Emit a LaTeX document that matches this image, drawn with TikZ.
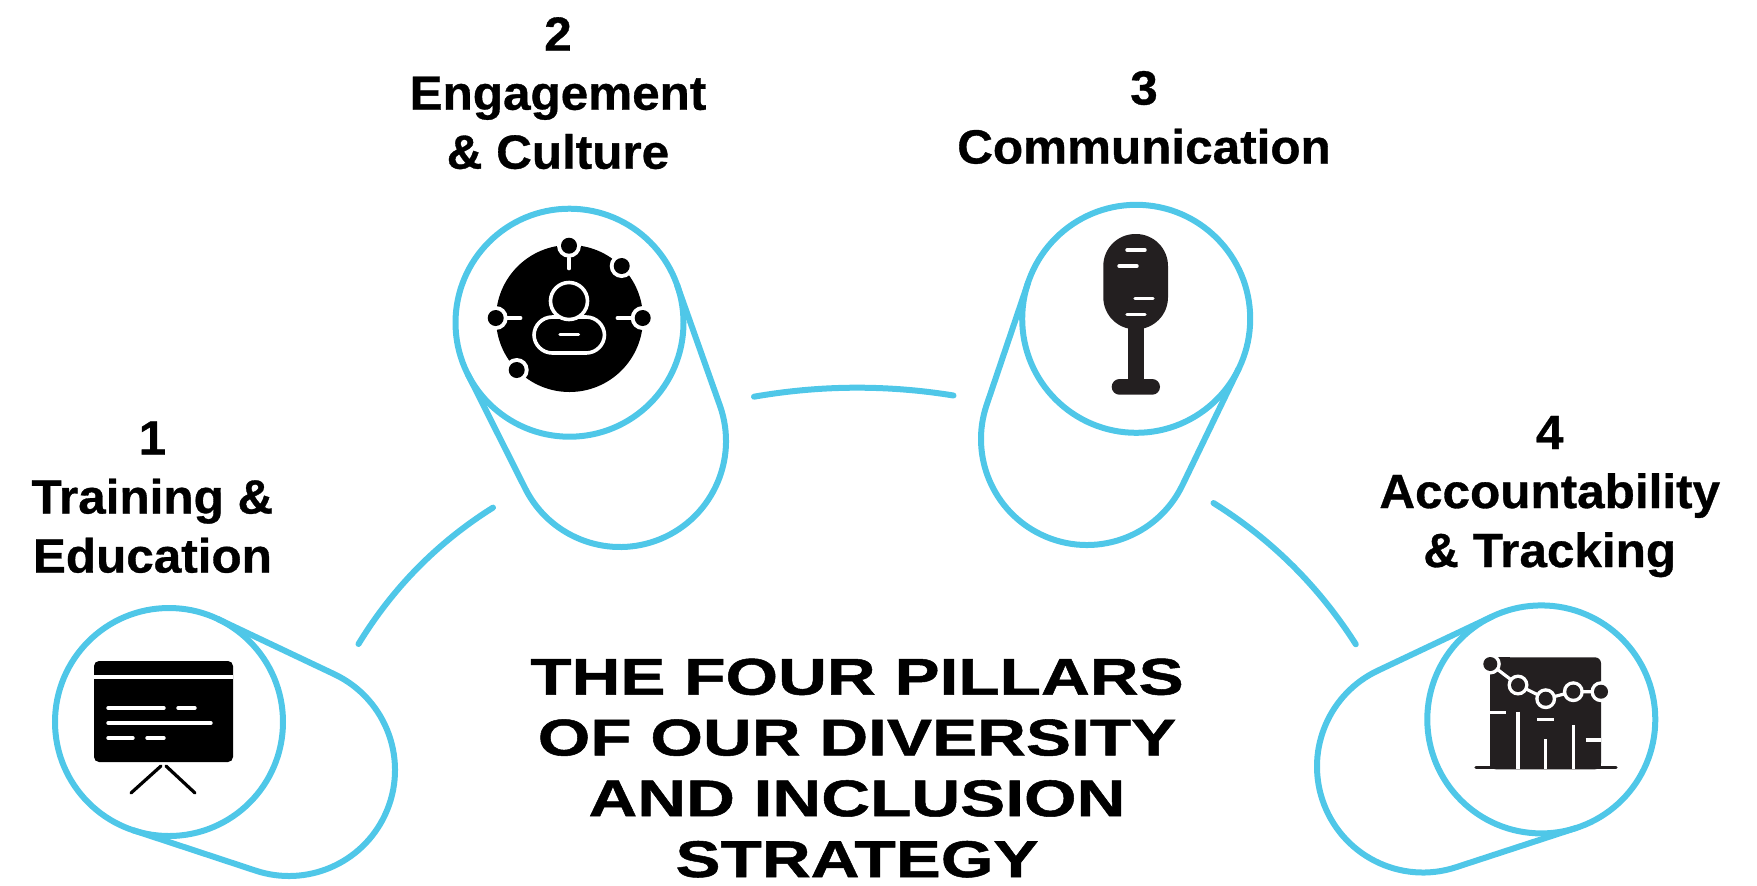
\documentclass[tikz,border=0pt]{standalone}
\usepackage{fontspec}
\setmainfont{Liberation Sans}
\newfontfamily\labelfont[BoldFeatures={FakeBold=0.7,FakeStretch=1.03}]{Liberation Sans}
\newfontfamily\titlefont[BoldFeatures={FakeBold=1.0,FakeStretch=1.31}]{Liberation Sans}
\usetikzlibrary{calc}
\definecolor{ringblue}{HTML}{4FC7E8}
\definecolor{inkdark}{HTML}{231F20}
\tikzset{
  ringnode/.style={circle,draw=ringblue,line width=3pt,minimum size=114pt,inner sep=0pt,outer sep=0pt},
  ringline/.style={draw=ringblue,line width=3pt,line join=round},
  connector/.style={draw=ringblue,line width=3pt,line cap=round},
  pillarlabel/.style={align=center,anchor=base,inner sep=0pt,outer sep=0pt,font=\labelfont\bfseries\fontsize{24}{29.5}\selectfont},
  titlelabel/.style={align=center,anchor=base,inner sep=0pt,outer sep=0pt,font=\titlefont\bfseries\fontsize{25.8}{30.4}\selectfont},
  whitedash/.style={draw=white,line width=1.7pt,line cap=round},
  whitehair/.style={draw=white,line width=1.6pt},
  blackline/.style={draw=black,line width=1.6pt,line cap=round},
}
\newcommand{\pillshape}[4]{%
  \path[ringline] ($(#1.center)+(#3:114)$) -- ($(#2)+(#3:106)$)
    arc[start angle=#3,end angle=#4,radius=106] -- ($(#1.center)+(#4:114)$);}
\newcommand{\ringdot}[3]{%
  \fill[white] (#1,#2) circle[radius=#3+4];
  \fill[black] (#1,#2) circle[radius=#3];}
\begin{document}
\begin{tikzpicture}[x=0.5pt,y=-0.5pt]
\useasboundingbox (0,0) rectangle (1757,885);
% rings
\node[ringnode] (r1) at (169,722) {};
\node[ringnode] (r2) at (569.5,322.7) {};
\node[ringnode] (r3) at (1136.2,318.8) {};
\node[ringnode] (r4) at (1541.3,719.4) {};
\coordinate (b1) at (289,770);
\coordinate (b2) at (620,441);
\coordinate (b3) at (1087,439);
\coordinate (b4) at (1423,766.5);
\pillshape{r1}{b1}{-64.7}{108.3}
\pillshape{r2}{b2}{-19.53}{153.33}
\pillshape{r3}{b3}{25.8}{198.8}
\pillshape{r4}{b4}{71.9}{244.7}
% connectors
\coordinate (k1) at (358.5,644); \coordinate (k2) at (493,507.6);
\coordinate (k3) at (754,396.7); \coordinate (k4) at (953.5,395.5);
\coordinate (k5) at (1213.5,503); \coordinate (k6) at (1355.8,644.3);
\path[connector] (k1) .. controls (392.7,587.9) and (437.5,542.4) .. (k2);
\path[connector] (k3) .. controls (820.5,385.1) and (887,384.7) .. (k4);
\path[connector] (k5) .. controls (1271.6,539.4) and (1319,586.5) .. (k6);
% icon 1: board
\fill[black,rounded corners=2.5pt] (94,661) rectangle (233,762);
\path[whitehair] (94,677) -- (233,677);
\path[whitedash] (108,708) -- (164,708);
\path[whitedash] (178,708) -- (195,708);
\path[whitedash] (108,723) -- (211,723);
\path[whitedash] (108,738) -- (133,738);
\path[whitedash] (147,738) -- (164,738);
\path[blackline] (161,766) -- (131,793);
\path[blackline] (166,766) -- (195,793);
% icon 2: person in a disc
\fill[black] (569.5,318.5) circle[radius=73.5];
\ringdot{569}{245.7}{8}
\ringdot{621.7}{266}{8}
\ringdot{495.7}{318}{8}
\ringdot{642.7}{318}{8}
\ringdot{516.7}{370}{8}
\path[whitedash] (569,258) -- (569,268.6);
\path[whitedash] (506,318) -- (520.7,318);
\path[whitedash] (617.3,318) -- (632,318);
\filldraw[draw=white,line width=1.8pt,fill=black,rounded corners=9.2pt] (534,317) rectangle (604.5,353);
\filldraw[draw=white,line width=1.8pt,fill=black] (569,301) circle[radius=18.5];
\path[whitedash] (560,334.6) -- (578.5,334.6);
% icon 3: microphone
\fill[inkdark,rounded corners=16pt] (1103.3,234) rectangle (1168,329.3);
\fill[inkdark] (1127.7,320) rectangle (1144,385);
\fill[inkdark,rounded corners=3.9pt] (1111.7,379) rectangle (1160,394.7);
\path[whitedash] (1127,250) -- (1145,250);
\path[whitedash] (1119,266) -- (1137,266);
\path[whitedash] (1135,298.3) -- (1153,298.3);
\path[whitedash] (1127,314.3) -- (1145,314.3);
% icon 4: chart
\fill[inkdark,rounded corners=3pt] (1490,769.3) -- (1490,657.3) -- (1601,657.3) -- (1601,769.3) -- cycle;
\fill[inkdark] (1490,760) rectangle (1601,769.3);
\fill[inkdark] (1490,657.3) rectangle (1510,670);
\path[draw=inkdark,line width=1.6pt,line cap=round] (1476,767.7) -- (1490,767.7);
\path[draw=inkdark,line width=1.6pt,line cap=round] (1601,767.7) -- (1616,767.7);
\path[whitehair] (1518,711.7) -- (1518,769.3);
\path[whitehair] (1545.7,739.3) -- (1545.7,769.3);
\path[whitehair] (1573.3,725) -- (1573.3,769.3);
\path[whitehair] (1490,712.3) -- (1505.7,712.3);
\path[whitehair] (1537.3,719.3) -- (1554,719.3);
\path[whitehair] (1585.7,740) -- (1601,740);
\path[whitehair] (1490.3,664) -- (1518,685) -- (1545.7,698.7) -- (1573.3,691.7) -- (1601,691.7);
\foreach \px/\py in {1490.3/664,1518/685,1545.7/698.7,1573.3/691.7,1601/691.7}{
  \fill[white] (\px,\py) circle[radius=10.5];
  \fill[inkdark] (\px,\py) circle[radius=7];}
% labels
\node[pillarlabel] (l1) at (152.4,572.5) {1\\Training \&\\Education};
\node[pillarlabel] (l2) at (558,168.7) {2\\Engagement\\\& Culture};
\node[pillarlabel] (l3) at (1144,163.5) {3\\Communication};
\node[pillarlabel] (l4) at (1549.7,567) {4\\Accountability\\\& Tracking};
\node[titlelabel] (t) at (857,877) {THE FOUR PILLARS\\OF OUR DIVERSITY\\AND INCLUSION\\STRATEGY};
\end{tikzpicture}
\end{document}
